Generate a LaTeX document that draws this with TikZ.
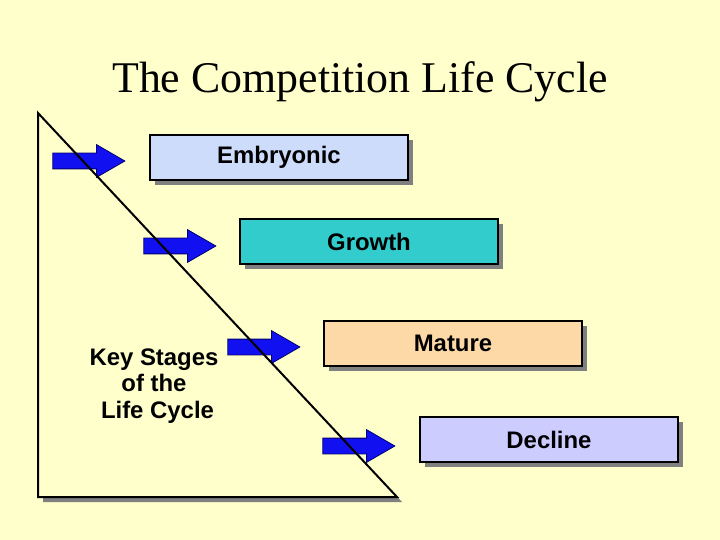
\documentclass[tikz,border=0pt]{standalone}
\usepackage{fontspec}
\setmainfont{Liberation Serif}
\newfontfamily\arialfont{Liberation Sans}
\usetikzlibrary{shapes.arrows,shadows}
\definecolor{PaleYellow}{HTML}{FFFFCC}
\definecolor{EmbBlue}{HTML}{CCDCFA}
\definecolor{GrowTeal}{HTML}{33CCCC}
\definecolor{MatPeach}{HTML}{FCD9A6}
\definecolor{DecLilac}{HTML}{CCCCFF}
\definecolor{ShadowGray}{HTML}{808080}
\definecolor{ArrowBlue}{HTML}{1010F0}
\definecolor{ArrowEdge}{HTML}{000070}

\begin{document}
\begin{tikzpicture}[x=1bp,y=-1bp,
    stagebox/.style={draw=black,line width=1.6bp,minimum width=258bp,minimum height=45bp,inner sep=0pt,
      font=\arialfont\bfseries\fontsize{24}{28}\selectfont,
      drop shadow={shadow xshift=5bp,shadow yshift=-5bp,fill=ShadowGray,opacity=1}},
    bluearrow/.style={single arrow,draw=ArrowEdge,fill=ArrowBlue,line width=0.8bp,inner xsep=0pt,inner ysep=7.5bp,
      minimum width=32bp,minimum height=72bp,single arrow head extend=8.5bp,single arrow tip angle=60}]
    \fill[PaleYellow] (0,0) rectangle (720,540);
    \useasboundingbox (0,0) rectangle (720,540);
    \node[font=\fontsize{44}{50}\selectfont,anchor=base] (title) at (360,93) {The Competition Life Cycle};
    % triangle
    \coordinate (apex) at (38,113);
    \coordinate (corner) at (38,497);
    \coordinate (foot) at (397,497);
    \fill[ShadowGray] ([shift={(5,5)}]apex) -- ([shift={(5,5)}]corner) -- ([shift={(5,5)}]foot) -- cycle;
    \fill[PaleYellow] (apex) -- (corner) -- (foot) -- cycle;
    \node[bluearrow] (arrA) at (82,161) {};
    \node[bluearrow] (arrB) at (173,246) {};
    \node[bluearrow] (arrC) at (257,347) {};
    \node[bluearrow] (arrD) at (352,446) {};
    \draw[line width=2bp,line join=miter] (apex) -- (corner) -- (foot) -- cycle;
    \node[align=center,font=\arialfont\bfseries\fontsize{24}{26.5}\selectfont] (key) at (154,386) {Key Stages\\of the\hspace*{6bp}\\\hspace*{7bp}Life Cycle};
    \node[stagebox,fill=EmbBlue] (embryonic) at (279,157.5) {Embryonic};
    \node[stagebox,fill=GrowTeal] (growth) at (369,241.5) {Growth};
    \node[stagebox,fill=MatPeach] (mature) at (453,343.5) {Mature};
    \node[stagebox,fill=DecLilac] (decline) at (549,439.5) {Decline};
  \end{tikzpicture}
\end{document}
